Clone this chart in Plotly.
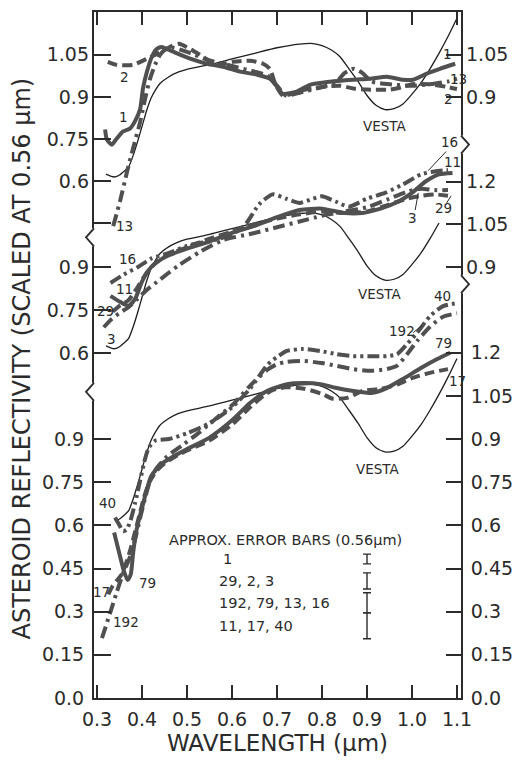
import plotly.graph_objects as go

# ---------------- tick labels ----------------
X_TICKS = [0.3, 0.4, 0.5, 0.6, 0.7, 0.8, 0.9, 1.0, 1.1]
X_TICKTEXT = ["0.3", "0.4", "0.5", "0.6", "0.7", "0.8", "0.9", "1.0", "1.1"]
BOT_LEFT_TICKS = [0.0, 0.15, 0.3, 0.45, 0.6, 0.75, 0.9]
BOT_LEFT_TEXT = ["0.0", "0.15", "0.3", "0.45", "0.6", "0.75", "0.9"]
BOT_RIGHT_TICKS = [0.0, 0.15, 0.3, 0.45, 0.6, 0.75, 0.9, 1.05, 1.2]
BOT_RIGHT_TEXT = ["0.0", "0.15", "0.3", "0.45", "0.6", "0.75", "0.9", "1.05", "1.2"]
MID_LEFT_TICKS = [0.6, 0.75, 0.9]
MID_LEFT_TEXT = ["0.6", "0.75", "0.9"]
MID_RIGHT_TICKS = [0.9, 1.05, 1.2]
MID_RIGHT_TEXT = ["0.9", "1.05", "1.2"]
TOP_LEFT_TICKS = [0.45, 0.6, 0.75, 0.9, 1.05]
TOP_LEFT_TEXT = ["", "0.6", "0.75", "0.9", "1.05"]
TOP_RIGHT_TICKS = [0.9, 1.05]
TOP_RIGHT_TEXT = ["0.9", "1.05"]

# ---------------- Vesta reference spectrum (drawn in every panel) ----------------
VESTA_X = [0.32, 0.33, 0.34, 0.35, 0.36, 0.37, 0.38, 0.39, 0.40, 0.41, 0.42, 0.43, 0.44, 0.46,
           0.48, 0.50, 0.55, 0.60, 0.65, 0.70, 0.75, 0.78, 0.80, 0.82, 0.84, 0.86, 0.88, 0.90,
           0.92, 0.94, 0.96, 0.98, 1.00, 1.02, 1.04, 1.06, 1.08, 1.10]
VESTA_V = [0.625, 0.618, 0.615, 0.622, 0.635, 0.65, 0.69, 0.74, 0.795, 0.85, 0.895, 0.925, 0.948,
           0.972, 0.988, 0.998, 1.015, 1.035, 1.055, 1.075, 1.088, 1.09, 1.083, 1.068, 1.043, 1.0,
           0.955, 0.905, 0.87, 0.855, 0.858, 0.875, 0.91, 0.95, 1.0, 1.055, 1.115, 1.18]
VESTA_SPAN_TOP = (0.32, 1.10)
VESTA_SPAN_MID = (0.32, 1.06)
VESTA_SPAN_BOT = (0.335, 1.10)

# ---------------- top panel: 1, 2, 13 ----------------
A1_X = [0.318, 0.322, 0.333, 0.344, 0.358, 0.373, 0.384, 0.396, 0.402, 0.411, 0.422, 0.433, 0.444,
        0.469, 0.507, 0.544, 0.58, 0.618, 0.656, 0.684, 0.70, 0.713, 0.744, 0.773, 0.818, 0.869,
        0.907, 0.944, 0.98, 1.002, 1.033, 1.062, 1.096]
A1_V = [0.784, 0.748, 0.73, 0.752, 0.777, 0.787, 0.812, 0.858, 0.929, 0.99, 1.043, 1.071, 1.078,
        1.061, 1.036, 1.018, 1.007, 0.99, 0.979, 0.965, 0.936, 0.911, 0.919, 0.943, 0.954, 0.961,
        0.965, 0.972, 0.961, 0.961, 0.983, 1.0, 1.018]
A2_X = [0.324, 0.344, 0.38, 0.411, 0.433, 0.467, 0.482, 0.507, 0.529, 0.567, 0.602, 0.64, 0.669,
        0.684, 0.696, 0.713, 0.76, 0.8, 0.84, 0.87, 0.9, 0.95, 0.98, 1.0, 1.04, 1.08, 1.1]
A2_V = [1.025, 1.014, 1.014, 1.036, 1.053, 1.082, 1.089, 1.071, 1.05, 1.014, 1.025, 1.029, 1.018,
        1.0, 0.947, 0.905, 0.925, 0.935, 0.94, 0.93, 0.926, 0.926, 0.935, 0.945, 0.945, 0.935, 0.928]
A13_X = [0.336, 0.351, 0.367, 0.38, 0.396, 0.407, 0.418, 0.429, 0.44, 0.451, 0.47, 0.5, 0.55, 0.6,
         0.65, 0.68, 0.70, 0.72, 0.75, 0.8, 0.83, 0.85, 0.87, 0.89, 0.91, 0.95, 1.0, 1.04, 1.08, 1.1]
A13_V = [0.44, 0.528, 0.635, 0.716, 0.812, 0.894, 0.965, 1.014, 1.05, 1.068, 1.075, 1.06, 1.03, 1.01,
         0.99, 0.975, 0.94, 0.905, 0.915, 0.935, 0.95, 0.985, 1.0, 0.985, 0.955, 0.945, 0.94, 0.945,
         0.955, 0.965]

# ---------------- middle panel: 16, 11, 29, 3 ----------------
A16_X = [0.33, 0.36, 0.39, 0.42, 0.46, 0.5, 0.56, 0.6, 0.63, 0.66, 0.69, 0.72, 0.75, 0.78, 0.80,
         0.83, 0.86, 0.9, 0.94, 0.98, 1.02, 1.05, 1.08]
A16_V = [0.845, 0.875, 0.9, 0.93, 0.95, 0.975, 0.995, 1.015, 1.05, 1.12, 1.155, 1.14, 1.125, 1.14,
         1.148, 1.13, 1.112, 1.14, 1.16, 1.19, 1.225, 1.235, 1.24]
A11_X = [0.33, 0.35, 0.37, 0.385, 0.40, 0.42, 0.45, 0.5, 0.55, 0.6, 0.65, 0.7, 0.75, 0.8, 0.85, 0.89,
         0.93, 0.97, 1.0, 1.03, 1.06, 1.09]
A11_V = [0.80, 0.78, 0.765, 0.79, 0.85, 0.90, 0.935, 0.965, 0.99, 1.02, 1.045, 1.075, 1.1, 1.105,
         1.09, 1.09, 1.105, 1.13, 1.16, 1.2, 1.225, 1.23]
A29_X = [0.335, 0.35, 0.37, 0.39, 0.41, 0.43, 0.46, 0.5, 0.55, 0.6, 0.65, 0.7, 0.75, 0.8, 0.85, 0.9,
         0.95, 0.99, 1.02, 1.05, 1.08]
A29_V = [0.745, 0.765, 0.785, 0.83, 0.88, 0.915, 0.945, 0.97, 1.0, 1.025, 1.05, 1.07, 1.085, 1.095,
         1.09, 1.095, 1.12, 1.14, 1.15, 1.155, 1.15]
A3_X = [0.315, 0.33, 0.35, 0.37, 0.39, 0.41, 0.44, 0.48, 0.53, 0.58, 0.65, 0.7, 0.75, 0.8, 0.85, 0.9,
        0.95, 0.99, 1.02, 1.05, 1.08]
A3_V = [0.69, 0.715, 0.74, 0.76, 0.79, 0.82, 0.857, 0.905, 0.955, 0.995, 1.02, 1.04, 1.06, 1.08,
        1.095, 1.11, 1.14, 1.165, 1.175, 1.17, 1.17]

# ---------------- bottom panel: 40, 192, 79, 17 ----------------
A40_X = [0.34, 0.35, 0.358, 0.366, 0.375, 0.385, 0.395, 0.405, 0.415, 0.43, 0.46, 0.5, 0.55, 0.6,
         0.64, 0.68, 0.70, 0.722, 0.758, 0.796, 0.833, 0.869, 0.907, 0.944, 0.967, 0.989, 1.011,
         1.04, 1.069, 1.1]
A40_V = [0.627, 0.60, 0.58, 0.585, 0.62, 0.68, 0.75, 0.82, 0.87, 0.895, 0.9, 0.92, 0.955, 1.01,
         1.075, 1.16, 1.185, 1.206, 1.213, 1.206, 1.195, 1.188, 1.188, 1.188, 1.195, 1.23, 1.268,
         1.327, 1.362, 1.372]
A192_X = [0.311, 0.329, 0.343, 0.358, 0.373, 0.384, 0.396, 0.407, 0.418, 0.433, 0.456, 0.491, 0.529,
          0.567, 0.602, 0.64, 0.678, 0.70, 0.72, 0.76, 0.8, 0.833, 0.869, 0.907, 0.944, 0.967,
          0.989, 1.011, 1.04, 1.069, 1.1]
A192_V = [0.208, 0.295, 0.364, 0.433, 0.489, 0.547, 0.627, 0.696, 0.755, 0.8, 0.84, 0.88, 0.925,
          0.975, 1.02, 1.085, 1.14, 1.16, 1.168, 1.171, 1.164, 1.154, 1.143, 1.137, 1.143, 1.155,
          1.195, 1.24, 1.29, 1.325, 1.337]
A79_X = [0.338, 0.35, 0.36, 0.368, 0.375, 0.38, 0.385, 0.39, 0.40, 0.41, 0.42, 0.44, 0.47, 0.5, 0.55,
         0.6, 0.64, 0.67, 0.69, 0.72, 0.76, 0.8, 0.83, 0.87, 0.91, 0.94, 0.98, 1.02, 1.056, 1.085]
A79_V = [0.575, 0.50, 0.44, 0.41, 0.43, 0.50, 0.56, 0.60, 0.66, 0.72, 0.77, 0.81, 0.84, 0.865, 0.905,
         0.965, 1.025, 1.06, 1.075, 1.09, 1.095, 1.09, 1.078, 1.067, 1.06, 1.074, 1.109, 1.147,
         1.178, 1.2]
A17_X = [0.325, 0.335, 0.345, 0.355, 0.365, 0.375, 0.385, 0.395, 0.405, 0.415, 0.43, 0.45, 0.48, 0.5,
         0.55, 0.6, 0.64, 0.67, 0.69, 0.72, 0.76, 0.8, 0.824, 0.856, 0.89, 0.93, 0.97, 1.0, 1.04, 1.08]
A17_V = [0.36, 0.39, 0.41, 0.43, 0.47, 0.52, 0.58, 0.64, 0.70, 0.745, 0.785, 0.815, 0.845, 0.86,
         0.895, 0.95, 1.01, 1.05, 1.07, 1.08, 1.075, 1.057, 1.04, 1.043, 1.067, 1.074, 1.091, 1.112,
         1.13, 1.143]

# ---------------- approximate error bars at 0.56 um ----------------
ERR_ROWS = ["1", "29, 2, 3", "192, 79, 13, 16", "11, 17, 40"]
ERR_X = [0.9, 0.9, 0.9, 0.9]
ERR_CENTER = [0.483, 0.407, 0.331, 0.251]
ERR_HALF = [0.017, 0.028, 0.035, 0.045]

# ---------------- styling ----------------
FONT = "DejaVu Sans"
INK = "#2b2b2b"
CURVE = "#505050"
SOLID = "solid"
DASH = "10px,5px"
DASHDOT = "12px,5px,3px,5px"
DASHDOTDOT = "12px,4px,3px,4px,3px,4px"

fig = go.Figure()


def add_curve(xs, vs, yax, dash, width=4.0, color=CURVE, name=""):
    fig.add_trace(go.Scatter(
        x=xs, y=vs, yaxis=yax, mode="lines", name=name,
        line=dict(color=color, width=width, dash=dash, shape="spline", smoothing=0.6),
        hoverinfo="skip", showlegend=False))


def add_vesta(span, yax):
    xs = [x for x in VESTA_X if span[0] <= x <= span[1]]
    vs = [v for x, v in zip(VESTA_X, VESTA_V) if span[0] <= x <= span[1]]
    add_curve(xs, vs, yax, SOLID, width=1.3, color="#1e1e1e", name="Vesta")


# top panel (axis y5)
add_vesta(VESTA_SPAN_TOP, "y5")
add_curve(A13_X, A13_V, "y5", DASHDOT, name="13")
add_curve(A2_X, A2_V, "y5", DASH, name="2")
add_curve(A1_X, A1_V, "y5", SOLID, name="1")
# middle panel (axis y3)
add_vesta(VESTA_SPAN_MID, "y3")
add_curve(A3_X, A3_V, "y3", DASHDOT, name="3")
add_curve(A29_X, A29_V, "y3", DASH, name="29")
add_curve(A16_X, A16_V, "y3", DASHDOTDOT, name="16")
add_curve(A11_X, A11_V, "y3", SOLID, name="11")
# bottom panel (axis y)
add_vesta(VESTA_SPAN_BOT, "y")
add_curve(A192_X, A192_V, "y", DASHDOT, name="192")
add_curve(A40_X, A40_V, "y", DASHDOTDOT, name="40")
add_curve(A17_X, A17_V, "y", DASH, name="17")
add_curve(A79_X, A79_V, "y", SOLID, name="79")

# error bars
fig.add_trace(go.Scatter(
    x=ERR_X, y=ERR_CENTER, yaxis="y", mode="markers",
    marker=dict(size=1, color="rgba(0,0,0,0)"),
    error_y=dict(type="data", array=ERR_HALF, symmetric=True, color=INK, thickness=1.4, width=4),
    hoverinfo="skip", showlegend=False))

# empty traces so the right-hand axes are drawn
for ax in ["y2", "y4", "y6"]:
    fig.add_trace(go.Scatter(x=[None], y=[None], yaxis=ax, mode="lines",
                             hoverinfo="skip", showlegend=False))

# ---------------- text labels ----------------
LABELS_TOP = [("2", 0.362, 0.972), ("1", 0.358, 0.83), ("13", 0.362, 0.44), ("VESTA", 0.94, 0.798),
              ("1", 1.078, 1.053), ("13", 1.103, 0.965), ("2", 1.08, 0.894)]
LABELS_MID = [("16", 0.367, 0.928), ("11", 0.362, 0.823), ("29", 0.318, 0.746), ("3", 0.333, 0.649),
              ("16", 1.084, 1.338), ("11", 1.089, 1.268), ("3", 1.002, 1.071), ("29", 1.069, 1.106),
              ("VESTA", 0.929, 0.806)]
LABELS_BOT = [("40", 0.324, 0.679), ("17", 0.311, 0.367), ("79", 0.413, 0.398), ("192", 0.365, 0.263),
              ("40", 1.067, 1.396), ("192", 0.978, 1.275), ("79", 1.069, 1.234), ("17", 1.1, 1.102),
              ("VESTA", 0.924, 0.797)]

annotations = []
for labels, yref in [(LABELS_TOP, "y5"), (LABELS_MID, "y3"), (LABELS_BOT, "y")]:
    for text, x, v in labels:
        annotations.append(dict(text=text, x=x, y=v, xref="x", yref=yref, showarrow=False,
                                font=dict(family=FONT, size=13.5, color=INK)))

annotations.append(dict(text="APPROX. ERROR BARS (0.56\u03bcm)", x=0.455, y=0.548, xref="x", yref="y",
                        xanchor="left", showarrow=False, font=dict(family=FONT, size=14.5, color=INK)))
ROW_X = [0.591, 0.567, 0.567, 0.567]
ROW_ANCHOR = ["center", "left", "left", "left"]
for text, x, v, anc in zip(ERR_ROWS, ROW_X, ERR_CENTER, ROW_ANCHOR):
    annotations.append(dict(text=text, x=x, y=v, xref="x", yref="y", xanchor=anc, showarrow=False,
                            font=dict(family=FONT, size=14.5, color=INK)))

# y-axis title (placed in the left margin)
annotations.append(dict(text="ASTEROID REFLECTIVITY (SCALED AT 0.56 \u03bcm)", textangle=-90,
                        xref="paper", yref="paper", x=-0.196, y=0.495, xanchor="center",
                        yanchor="middle", showarrow=False,
                        font=dict(family=FONT, size=24, color=INK)))

# ---------------- leader lines and axis breaks ----------------
shapes = []
LEADERS = [("y3", 1.076, 1.305, 1.036, 1.238), ("y3", 1.007, 1.10, 1.014, 1.16),
           ("y3", 1.077, 1.125, 1.087, 1.15), ("y", 1.003, 1.27, 1.022, 1.295)]
for yref, x0, y0, x1, y1 in LEADERS:
    shapes.append(dict(type="line", xref="x", yref=yref, x0=x0, y0=y0, x1=x1, y1=y1,
                       line=dict(color=INK, width=1)))

BREAKS = [(0.0, 0.6715, -1), (0.0, 0.4463, -1), (1.0, 0.8067, 1), (1.0, 0.6032, 1)]
for xp, yp, side in BREAKS:
    shapes.append(dict(type="rect", xref="paper", xsizemode="pixel", xanchor=xp, x0=-2, x1=2,
                       yref="paper", ysizemode="pixel", yanchor=yp, y0=-9, y1=9,
                       fillcolor="white", line=dict(width=0), layer="above"))
    shapes.append(dict(type="path", xref="paper", xsizemode="pixel", xanchor=xp,
                       yref="paper", ysizemode="pixel", yanchor=yp,
                       path=f"M0,-9 L{8 * side},0 L0,9", line=dict(color=INK, width=1.8),
                       layer="above"))

# ---------------- axes ----------------
tickfont = dict(family=FONT, size=19, color=INK)


def yax(rng, vals, text, side, ticklen, showline=False, overlay=True):
    d = dict(range=rng, tickmode="array", tickvals=vals, ticktext=text, side=side, anchor="x",
             ticks="inside", ticklen=ticklen, tickwidth=1.5, tickcolor=INK, tickfont=tickfont,
             showgrid=False, zeroline=False, showline=showline, linecolor=INK, linewidth=2,
             fixedrange=True, ticklabelstandoff=4)
    if overlay:
        d["overlaying"] = "y"
    return d


BOT_RANGE = [0.0, 2.384]
MID_RANGE = [-0.607, 1.793]
TOP_RANGE = [-1.240, 1.2023]

fig.update_layout(
    width=523, height=764,
    margin=dict(l=94, r=62, t=10, b=66),
    paper_bgcolor="white", plot_bgcolor="white",
    showlegend=False,
    xaxis=dict(range=[0.2933, 1.1089], tickmode="array", tickvals=X_TICKS, ticktext=X_TICKTEXT,
               ticks="inside", ticklen=13, tickwidth=1.5, tickcolor=INK, tickfont=tickfont,
               showline=True, linecolor=INK, linewidth=2, mirror="ticks", showgrid=False,
               zeroline=False, fixedrange=True, ticklabelstandoff=3,
               title=dict(text="WAVELENGTH (\u03bcm)", font=dict(family=FONT, size=23, color=INK),
                          standoff=6)),
    yaxis=yax(BOT_RANGE, BOT_LEFT_TICKS, BOT_LEFT_TEXT, "left", 17, showline=True, overlay=False),
    yaxis2=yax(BOT_RANGE, BOT_RIGHT_TICKS, BOT_RIGHT_TEXT, "right", 15, showline=True),
    yaxis3=yax(MID_RANGE, MID_LEFT_TICKS, MID_LEFT_TEXT, "left", 17),
    yaxis4=yax(MID_RANGE, MID_RIGHT_TICKS, MID_RIGHT_TEXT, "right", 15),
    yaxis5=yax(TOP_RANGE, TOP_LEFT_TICKS, TOP_LEFT_TEXT, "left", 17),
    yaxis6=yax(TOP_RANGE, TOP_RIGHT_TICKS, TOP_RIGHT_TEXT, "right", 15),
    annotations=annotations,
    shapes=shapes,
)

fig.write_html("out.html")
